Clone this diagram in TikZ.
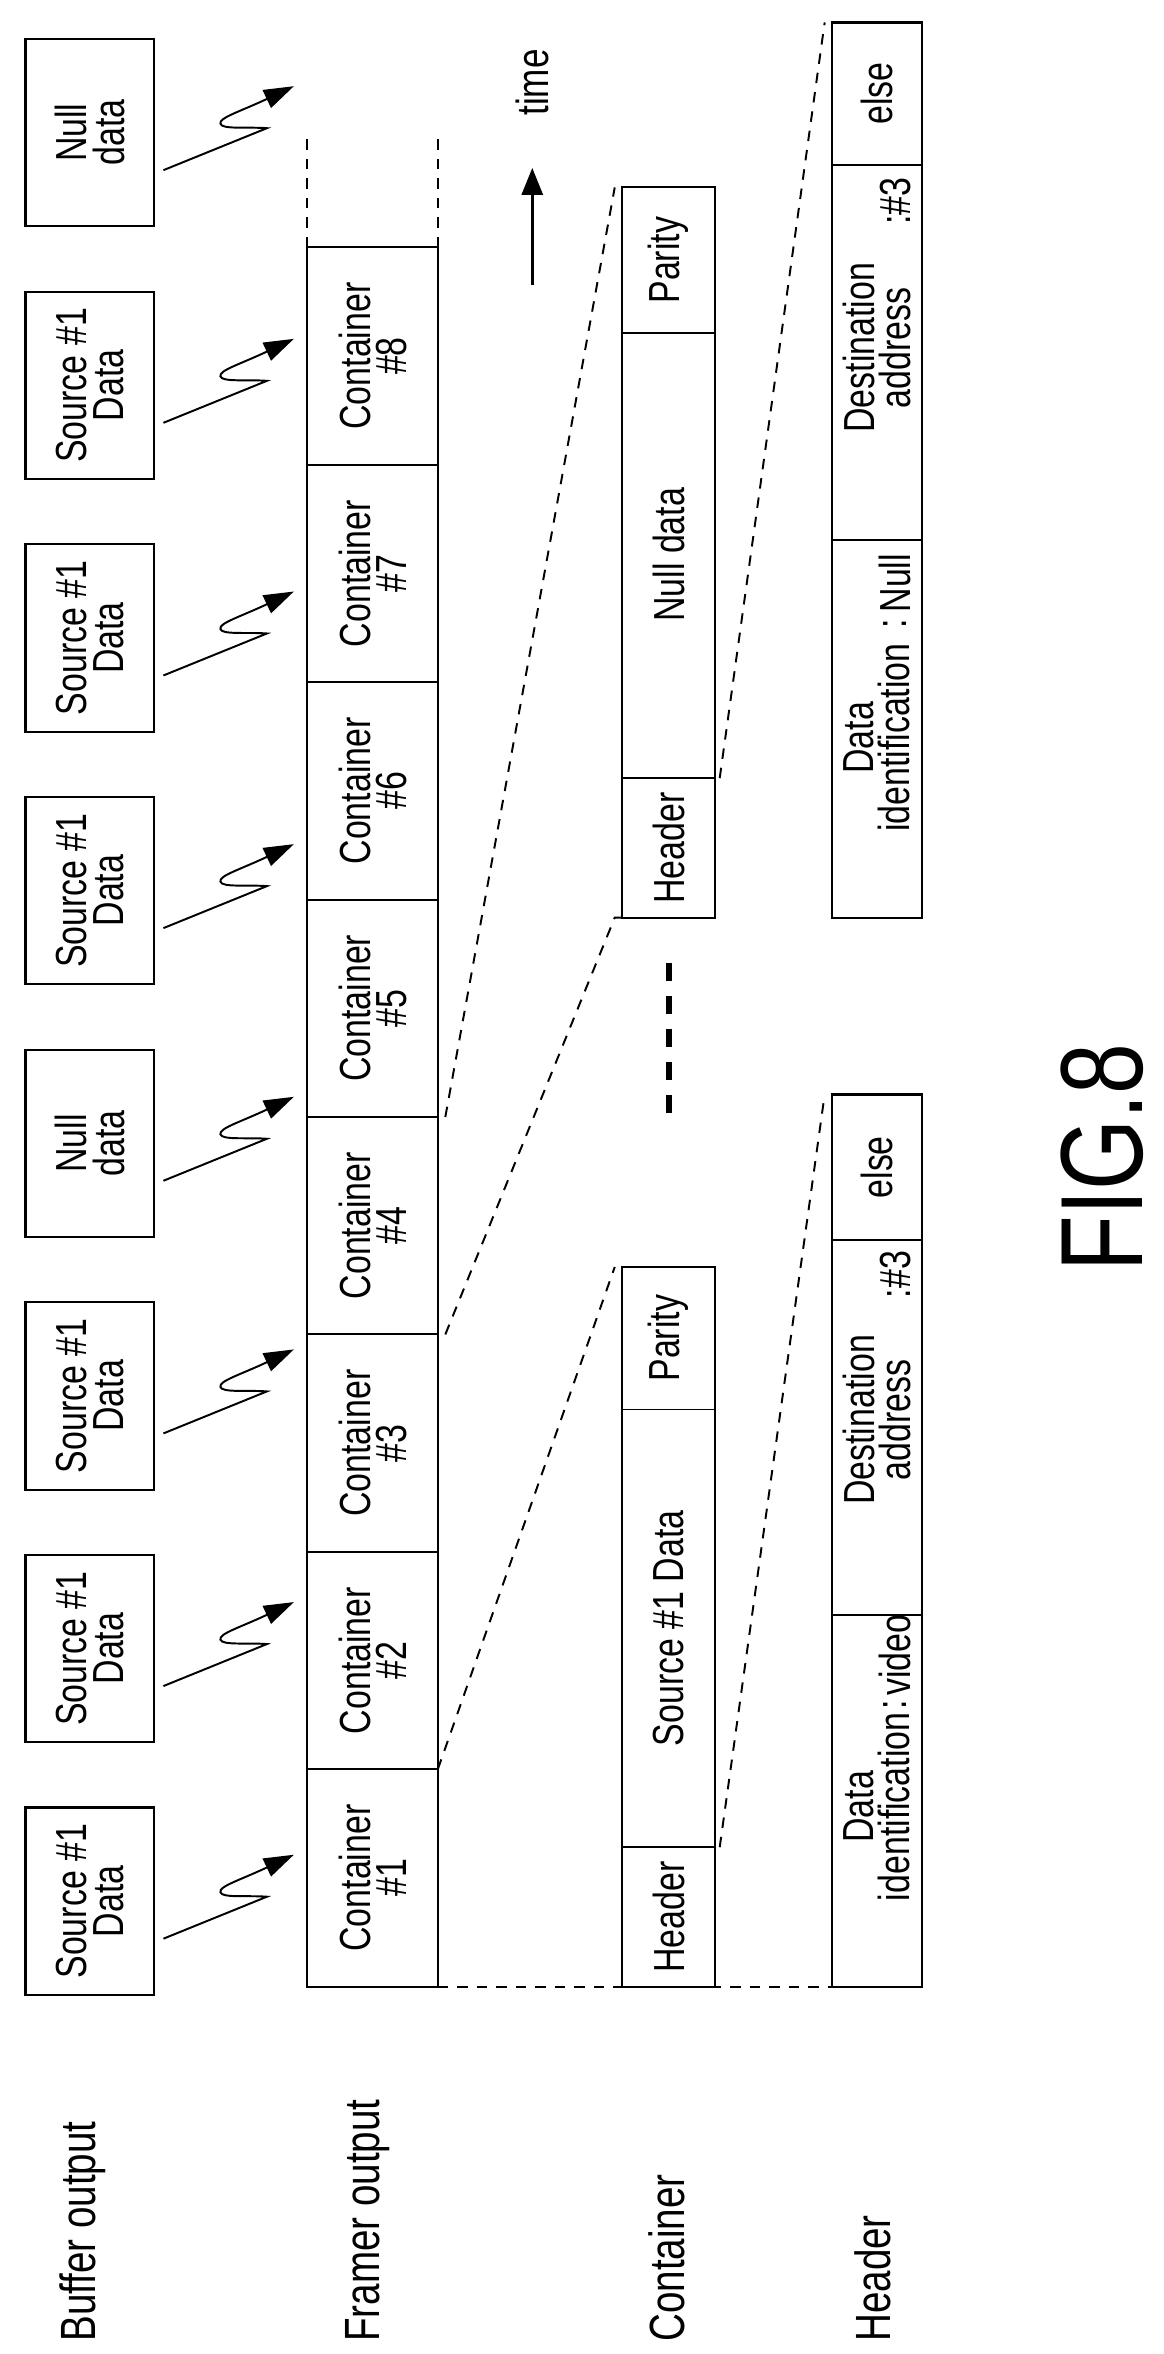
\documentclass[tikz,border=0pt]{standalone}
\usepackage{fontspec}
\setmainfont{Liberation Sans}[FakeStretch=0.78]
\usetikzlibrary{arrows.meta}
\begin{document}
\begin{tikzpicture}[x=1pt,y=-1pt,
  box/.style={draw,line width=1.4pt,minimum width=125pt,minimum height=86pt,rotate=90,align=center,font=\fontsize{29}{25}\selectfont,inner sep=0pt},
  cell/.style={draw,line width=1.4pt},
  lbl/.style={rotate=90,font=\fontsize{33}{33}\selectfont,inner sep=0pt},
  txt/.style={rotate=90,align=center,font=\fontsize{29}{24}\selectfont,inner sep=0pt},
  dsh/.style={dashed,line width=1.3pt,dash pattern=on 7pt off 6pt}]
\useasboundingbox (0,0) rectangle (776,1570);
% left labels
\node[lbl,anchor=west] (l1) at (55,1562) {Buffer output};
\node[lbl,anchor=west] (l2) at (245,1562) {Framer output};
\node[lbl,anchor=west] (l3) at (445,1562) {Container};
\node[lbl,anchor=west] (l4) at (582,1562) {Header};
% buffer boxes
\foreach \i/\t in {1/Source \#1\\Data,2/Source \#1\\Data,3/Source \#1\\Data,4/Null\\data,5/Source \#1\\Data,6/Source \#1\\Data,7/Source \#1\\Data,8/Null\\data}{
  \pgfmathsetmacro\yc{1268-168.5*(\i-1)}
  \node[box] (b\i) at (60,\yc) {\t};
  \coordinate (s\i) at (109,\yc+25);
  \coordinate (t\i) at (196,\yc-31);
  \draw[line width=1.3pt,-{Triangle[length=20pt,width=13pt]}] (s\i) -- (178,\yc-3) .. controls (165,\yc-4) and (148,\yc-2) .. (147,\yc-6) .. controls (146,\yc-10) and (160,\yc-14) .. (t\i);
}
% framer containers
\foreach \i in {1,...,8}{
  \pgfmathsetmacro\ya{1325-145*(\i-1)}
  \pgfmathsetmacro\yb{1325-145*\i}
  \draw[cell] (205,\ya) rectangle (292,\yb);
  \node[txt] (c\i) at (248.5,{(\ya+\yb)/2}) {Container\\\#\i};
}
\coordinate (ftl) at (205,165); \coordinate (ftr) at (292,165);
\coordinate (ftl2) at (205,90); \coordinate (ftr2) at (292,90);
\draw[dsh] (ftl) -- (ftl2); \draw[dsh] (ftr) -- (ftr2);
% time arrow
\coordinate (ta) at (355,190); \coordinate (tb) at (355,112);
\draw[line width=2pt,-{Triangle[length=18pt,width=14pt]}] (ta) -- (tb);
\node[txt,font=\fontsize{30}{30}\selectfont] (time) at (355,55) {time};
% container row 1
\draw[cell] (415,1325) rectangle (477,845);
\draw[line width=1pt] (415,1232) -- (477,1232) (415,940) -- (477,940);
\node[txt] (h1) at (446,1278.5) {Header};
\node[txt] (d1) at (446,1086) {Source \#1 Data};
\node[txt] (p1) at (446,892.5) {Parity};
% container row 2
\draw[cell] (415,612) rectangle (477,125);
\draw[line width=1pt] (415,519) -- (477,519) (415,222) -- (477,222);
\node[txt] (h2) at (446,565.5) {Header};
\node[txt] (d2) at (446,370) {Null data};
\node[txt] (p2) at (446,173.5) {Parity};
% ellipsis dashes
\coordinate (e1) at (446,742); \coordinate (e2) at (446,636);
\draw[line width=4pt,dash pattern=on 12pt off 10pt] (e1) -- (e2);
% header row 1
\draw[cell] (555,1325) rectangle (615,730);
\draw[line width=1pt] (555,1077) -- (615,1077) (555,827) -- (615,827);
\node[txt] (di1) at (585,1205) {Data\\identification};
\node[txt] (dv1) at (597,1137) {:};
\node[txt] (vv1) at (597,1104) {video};
\node[txt] (da1) at (585,947) {Destination\\address};
\node[txt] (n31) at (597,850) {:\#3};
\node[txt] (el1) at (585,778.5) {else};
% header row 2
\draw[cell] (555,612) rectangle (615,15);
\draw[line width=1pt] (555,360) -- (615,360) (555,110) -- (615,110);
\node[txt] (di2) at (585,492) {Data\\identification};
\node[txt] (dv2) at (597,416) {:};
\node[txt] (nn2) at (597,389) {Null};
\node[txt] (da2) at (585,232) {Destination\\address};
\node[txt] (n32) at (597,134) {:\#3};
\node[txt] (el2) at (585,62.5) {else};
% dashed projections
\coordinate (bl) at (292,1325); \coordinate (br) at (555,1325);
\draw[dsh] (bl) -- (br);
\draw[dsh] (292,1180) -- (410,845);
\draw[dsh] (297,890) -- (410,612) -- (415,612);
\draw[dsh] (297,745) -- (410,125);
\draw[dsh] (480,1232) -- (550,730);
\draw[dsh] (480,519) -- (550,15);
% figure label
\node[rotate=90,font=\fontsize{78}{78}\selectfont,inner sep=0pt] (fig) at (735,772) {FIG.8};
\end{tikzpicture}
\end{document}
